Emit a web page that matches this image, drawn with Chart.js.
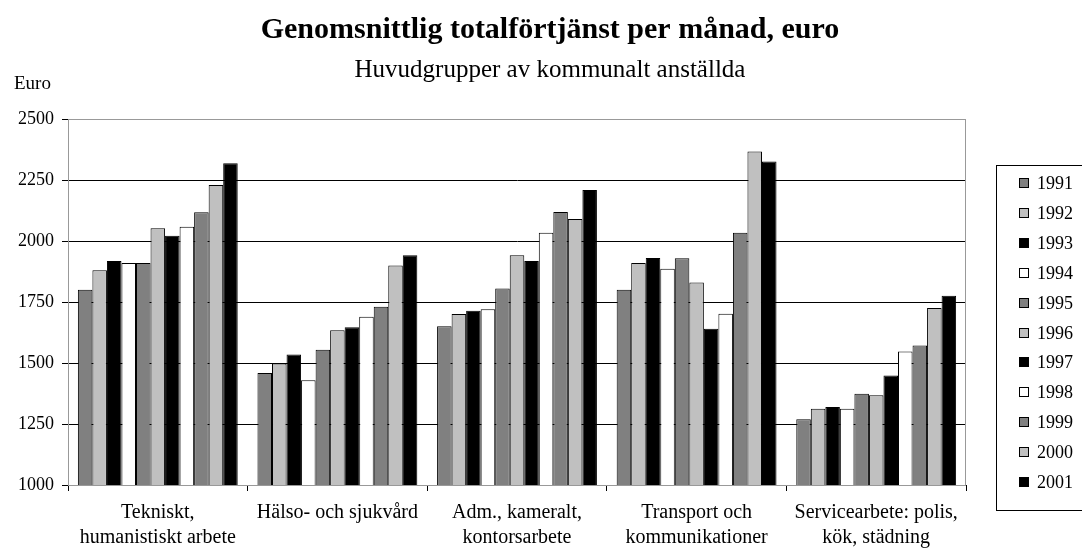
<!DOCTYPE html>
<html>
<head>
<meta charset="utf-8">
<script src="https://cdn.jsdelivr.net/npm/chart.js@4.4.1/dist/chart.umd.min.js"></script>
<style>
  html, body { margin: 0; padding: 0; background: #fff; }
  #wrap { width: 1082px; height: 548px; position: relative; }
</style>
</head>
<body>
<div id="wrap"><canvas id="chart"></canvas></div>
<script>
const categories = [
  ['Tekniskt,', 'humanistiskt arbete'],
  ['Hälso- och sjukvård'],
  ['Adm., kameralt,', 'kontorsarbete'],
  ['Transport och', 'kommunikationer'],
  ['Servicearbete: polis,', 'kök, städning']
];
const years = ['1991', '1992', '1993', '1994', '1995', '1996', '1997', '1998', '1999', '2000', '2001'];

// one array per category, values for 1991..2001
const tekniskt  = [1800, 1880, 1918, 1910, 1910, 2052, 2022, 2058, 2118, 2229, 2319];
const halso     = [1459, 1498, 1535, 1429, 1554, 1634, 1647, 1690, 1731, 1900, 1942];
const adm       = [1651, 1701, 1714, 1720, 1805, 1942, 1918, 2034, 2119, 2090, 2209];
const transport = [1800, 1910, 1930, 1886, 1929, 1830, 1640, 1702, 2034, 2367, 2326];
const service   = [1269, 1312, 1320, 1312, 1374, 1368, 1449, 1547, 1572, 1725, 1776];

const yTicks = [1000, 1250, 1500, 1750, 2000, 2250, 2500];

const fills = ['#808080', '#c0c0c0', '#000000', '#ffffff'];
const groups = [tekniskt, halso, adm, transport, service];
const SERIF = "'Liberation Serif', 'Times New Roman', serif";

const datasets = years.map((y, i) => ({
  label: y,
  data: groups.map(g => g[i]),
  backgroundColor: fills[i % 4],
  borderColor: '#000',
  borderWidth: 1,
  categoryPercentage: 0.89,
  barPercentage: 1.0
}));

const frame = {
  id: 'frame',
  beforeDatasetsDraw(chart) {
    const { ctx, chartArea: a } = chart;
    ctx.save();
    ctx.strokeStyle = '#999';
    ctx.lineWidth = 1;
    ctx.strokeRect(a.left + 0.5, a.top + 0.5, a.right - a.left - 1, a.bottom - a.top);
    ctx.restore();
  },
  afterDraw(chart) {
    const ctx = chart.ctx;
    ctx.save();
    ctx.fillStyle = '#000';
    ctx.textAlign = 'center';
    ctx.textBaseline = 'alphabetic';
    ctx.font = 'bold 30px ' + SERIF;
    ctx.fillText('Genomsnittlig totalförtjänst per månad, euro', 550, 38);
    ctx.font = '25px ' + SERIF;
    ctx.fillText('Huvudgrupper av kommunalt anställda', 550, 77);
    ctx.textAlign = 'left';
    ctx.font = '19px ' + SERIF;
    ctx.fillText('Euro', 14, 89);

    // legend
    ctx.strokeStyle = '#000';
    ctx.lineWidth = 1;
    ctx.strokeRect(996.5, 165.5, 100, 345);
    ctx.font = '18px ' + SERIF;
    ctx.textBaseline = 'middle';
    chart.data.datasets.forEach((ds, i) => {
      const y = Math.round(183 + i * 29.9);
      ctx.fillStyle = ds.backgroundColor;
      ctx.fillRect(1019, y - 5, 10, 10);
      ctx.strokeStyle = '#000';
      ctx.strokeRect(1019.5, y - 4.5, 9, 9);
      ctx.fillStyle = '#000';
      ctx.fillText(ds.label, 1037, y + 1);
    });
    ctx.restore();
  }
};

new Chart(document.getElementById('chart'), {
  type: 'bar',
  data: { labels: categories, datasets },
  options: {
    responsive: true,
    maintainAspectRatio: false,
    animation: false,
    layout: { padding: { top: 119, right: 116, left: 0, bottom: 0 } },
    plugins: {
      legend: { display: false },
      tooltip: { enabled: false }
    },
    scales: {
      x: {
        grid: { offset: true, drawOnChartArea: false, color: '#000', tickLength: 6 },
        border: { color: '#000' },
        ticks: { color: '#000', font: { family: SERIF, size: 20, lineHeight: 1.25 }, padding: 9, maxRotation: 0, autoSkip: false },
        afterFit(s) { s.height = 63; s.paddingLeft = 0; s.paddingRight = 0; }
      },
      y: {
        min: 1000,
        max: 2500,
        afterBuildTicks(s) { s.ticks = yTicks.map(v => ({ value: v })); },
        grid: { color: ctx => ctx.tick && ctx.tick.value === 2500 ? '#999' : '#000', tickColor: '#000', tickLength: 6 },
        border: { color: '#000' },
        ticks: { color: '#000', font: { family: SERIF, size: 18 }, padding: 8, callback: v => String(v) },
        afterFit(s) { s.width = 68; s.paddingTop = 0; s.paddingBottom = 0; }
      }
    }
  },
  plugins: [frame]
});
</script>
</body>
</html>
